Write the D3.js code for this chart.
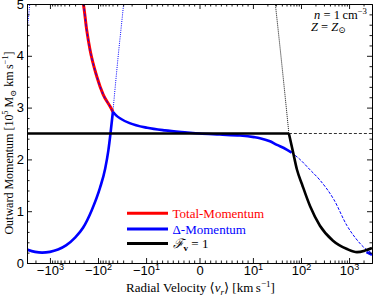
<!DOCTYPE html>
<html>
<head>
<meta charset="utf-8">
<script src="https://cdn.jsdelivr.net/npm/d3@7"></script>
<style>
  html, body { margin: 0; padding: 0; background: #fff; }
  svg { display: block; font-family: 'Liberation Serif', 'DejaVu Serif', serif; }
</style>
</head>
<body>
<div id="chart"></div>
<script>
// velocities in km/s, momentum in 1e5 Msun km/s
const deltaLeftV = [-3000, -2040, -1460, -1000, -680, -463, -300, -205, -135, -91, -71, -61, -55, -49]
const deltaLeftM = [0.26, 0.215, 0.20, 0.215, 0.26, 0.34, 0.49, 0.68, 1.02, 1.45, 1.82, 2.17, 2.5, 2.92]
const deltaMidV = [-49, -42, -33, -22, -9.8, -6.5, -2.3, 0, 3.8, 7.6, 10.5, 14, 22.6, 31.7, 44, 64]
const deltaMidM = [2.92, 2.85, 2.78, 2.70, 2.61, 2.56, 2.52, 2.50, 2.48, 2.46, 2.43, 2.41, 2.35, 2.28, 2.22, 2.13]
const deltaDashV = [64, 95, 154, 248, 486, 906, 1393, 2040, 3000]
const deltaDashM = [2.13, 2.0, 1.8, 1.6, 1.22, 0.72, 0.47, 0.30, 0.19]
const deltaEndV = [2300, 3000]
const deltaEndM = [0.21, 0.16]
const deltaDotV = [-49, -38, -29, -28]
const deltaDotM = [2.92, 4.0, 5.05, 5.2]
const deltaDotLeftV = [-3000, -2790, -2600]
const deltaDotLeftM = [4.5, 4.75, 5.05]
const totalV = [-215, -202, -172, -147, -106, -78, -56, -49]
const totalM = [5.1, 5.0, 4.5, 4.12, 3.6, 3.25, 3.02, 2.92]
const fluxFlatV = [-3000, 56]
const fluxFlatM = [2.5, 2.5]
const fluxDropV = [56, 68, 82.6, 105, 154, 248, 463, 906, 1462, 2143, 3000]
const fluxDropM = [2.5, 2.15, 1.8, 1.52, 1.1, 0.72, 0.43, 0.27, 0.21, 0.24, 0.29]
const fluxDashV = [56, 3000]
const fluxDashM = [2.5, 2.5]
const fluxDotV = [28.5, 40.3, 56]
const fluxDotM = [5.1, 3.8, 2.5]

const xMajor = [-1000, -100, -10, 0, 10, 100, 1000]
const xMajorLabels = [['−10', '3'], ['−10', '2'], ['−10', '1'], ['0', ''], ['10', '1'], ['10', '2'], ['10', '3']]
const yMajor = [0, 1, 2, 3, 4, 5]

const W = 374, H = 297
const margin = {top: 4, right: 2, bottom: 34, left: 27}
const FS = 13

// matplotlib style symlog, linthresh 10, linscale 1
const LT = 10, LS = 1 / (1 - 1 / 10)
const T = v => {
  const a = Math.abs(v)
  return Math.sign(v) * (a <= LT ? a * LS : LT * (LS + Math.log10(a / LT)))
}

const xT = d3.scaleLinear().domain([T(-3000), T(3000)]).range([margin.left, W - margin.right])
const x = v => xT(T(v))
const y = d3.scaleLinear().domain([0, 5]).range([H - margin.bottom, margin.top])

// minor ticks
const xMinor = []
for (let m = 1; m <= 9; m++) xMinor.push(m, -m)
for (const k of [10, 100, 1000]) {
  for (let m = 2; m <= 9; m++) if (m * k < 3000) xMinor.push(m * k, -m * k)
}
const yMinor = d3.range(0, 5.01, 0.2).filter(v => Math.abs(v - Math.round(v)) > 0.01)

function rich(sel, parts, fs) {
  sel.text(null)
  let cur = 0
  parts.forEach(([s, k]) => {
    if (!s) return
    const target = k.includes('^') ? -0.4 * fs : k.includes('_') ? 0.22 * fs : 0
    const t = sel.append('tspan').text(s)
    if (target !== cur) { t.attr('dy', target - cur); cur = target }
    if (k.includes('^') || k.includes('_')) t.attr('font-size', fs * 0.7)
    if (k.includes('i')) t.attr('font-style', 'italic')
    if (k.includes('b')) t.attr('font-weight', 'bold')
  })
}

const svg = d3.select('#chart').append('svg')
  .attr('width', W).attr('height', H)
  .style('font-size', FS + 'px')

svg.append('clipPath').attr('id', 'clip')
  .append('rect')
  .attr('x', margin.left).attr('y', margin.top)
  .attr('width', W - margin.left - margin.right)
  .attr('height', H - margin.top - margin.bottom)

const plot = svg.append('g').attr('clip-path', 'url(#clip)')

const line = d3.line().x(d => x(d[0])).y(d => y(d[1])).curve(d3.curveMonotoneX)
const lineY = d3.line().x(d => x(d[0])).y(d => y(d[1])).curve(d3.curveMonotoneY)
const zip = (a, b) => a.map((v, i) => [v, b[i]])

function draw(gen, V, M, color, width, dash) {
  plot.append('path')
    .attr('d', gen(zip(V, M)))
    .attr('fill', 'none')
    .attr('stroke', color)
    .attr('stroke-width', width)
    .attr('stroke-dasharray', dash || null)
}

// thin guide lines
draw(lineY, fluxDotV, fluxDotM, '#111', 1, '1,1')
draw(line, fluxDashV, fluxDashM, '#333', 1, '3,2')
draw(lineY, deltaDotV, deltaDotM, '#0000ff', 1, '1,1.2')
draw(lineY, deltaDotLeftV, deltaDotLeftM, '#0000ff', 1, '1,1.2')
draw(line, deltaDashV, deltaDashM, '#0000ff', 1, '3,1.5')

// thick curves
draw(line, totalV, totalM, '#ff0000', 3)
draw(line, totalV, totalM, '#0000ff', 1, '3,2')
draw(line, deltaLeftV, deltaLeftM, '#0000ff', 2.6)
draw(line, deltaMidV, deltaMidM, '#0000ff', 2.6)
draw(line, deltaEndV, deltaEndM, '#0000ff', 2.6)
draw(line, fluxFlatV, fluxFlatM, '#000', 2.6)
draw(line, fluxDropV, fluxDropM, '#000', 2.6)

// axes
const yBot = H - margin.bottom, yTop = margin.top
const gx = svg.append('g').attr('transform', `translate(0,${yBot})`)
  .call(d3.axisBottom(xT).tickValues(xMajor.map(T)).tickSize(-5).tickSizeOuter(0).tickPadding(3))
gx.selectAll('.tick text').each(function (d, i) {
  rich(d3.select(this), [[xMajorLabels[i][0], ''], [xMajorLabels[i][1], '^']], FS)
})
svg.append('g').attr('transform', `translate(0,${yBot})`)
  .call(d3.axisBottom(xT).tickValues(xMinor.map(T)).tickSize(-2.5).tickSizeOuter(0).tickFormat(''))
svg.append('g').attr('transform', `translate(0,${yTop})`)
  .call(d3.axisTop(xT).tickValues(xMajor.map(T)).tickSize(-5).tickSizeOuter(0).tickFormat(''))
svg.append('g').attr('transform', `translate(0,${yTop})`)
  .call(d3.axisTop(xT).tickValues(xMinor.map(T)).tickSize(-2.5).tickSizeOuter(0).tickFormat(''))

svg.append('g').attr('transform', `translate(${margin.left},0)`)
  .call(d3.axisLeft(y).tickValues(yMajor).tickSize(-5).tickSizeOuter(0).tickPadding(3).tickFormat(d3.format('d')))
svg.append('g').attr('transform', `translate(${margin.left},0)`)
  .call(d3.axisLeft(y).tickValues(yMinor).tickSize(-2.5).tickSizeOuter(0).tickFormat(''))
svg.append('g').attr('transform', `translate(${W - margin.right},0)`)
  .call(d3.axisRight(y).tickValues(yMajor).tickSize(-5).tickSizeOuter(0).tickFormat(''))
svg.append('g').attr('transform', `translate(${W - margin.right},0)`)
  .call(d3.axisRight(y).tickValues(yMinor).tickSize(-2.5).tickSizeOuter(0).tickFormat(''))

svg.selectAll('.tick text').attr('font-family', null).attr('font-size', FS).attr('fill', '#000')
svg.selectAll('.domain, .tick line').attr('stroke', '#000').attr('stroke-width', 0.9)

// axis labels
rich(svg.append('text')
  .attr('x', (margin.left + W - margin.right) / 2 + 1).attr('y', 292)
  .attr('text-anchor', 'middle'),
  [['Radial Velocity ⟨', ''], ['v', 'i'], ['r', 'i_'], ['⟩ [km\u2009s', ''], ['−1', '^'], [']', '']], FS)

rich(svg.append('text')
  .attr('transform', `translate(13,143) rotate(-90)`)
  .attr('text-anchor', 'middle')
  .style('font-size', '12px'),
  [['Outward Momentum [10', ''], ['5', '^'], [' M', ''], ['⊙', '_'], [' km\u2009s', ''], ['−1', '^'], [']', '']], 12)

// annotation
const note = svg.append('g').style('font-size', '12.5px')
rich(note.append('text').attr('x', 367).attr('y', 19).attr('text-anchor', 'end'),
  [['n', 'i'], [' = 1\u2009cm', ''], ['−3', '^']], 12.5)
rich(note.append('text').attr('x', 311).attr('y', 30.5),
  [['Z', 'i'], [' = ', ''], ['Z', 'i'], ['⊙', '_']], 12.5)

// legend
const legColors = ['#ff0000', '#0000ff', '#000']
const legY = [213.3, 229, 243.5]
const legParts = [
  [['Total-Momentum', '']],
  [['Δ-Momentum', '']],
  [['ℱ', 'i'], ['v', 'b_'], [' = 1', '']]
]
const leg = svg.append('g')
legColors.forEach((c, i) => {
  leg.append('line')
    .attr('x1', 127).attr('x2', 168)
    .attr('y1', legY[i]).attr('y2', legY[i])
    .attr('stroke', c).attr('stroke-width', 3)
  rich(leg.append('text').attr('x', 172.5).attr('y', legY[i] + 4.5).attr('fill', c), legParts[i], FS)
})
</script>
</body>
</html>
